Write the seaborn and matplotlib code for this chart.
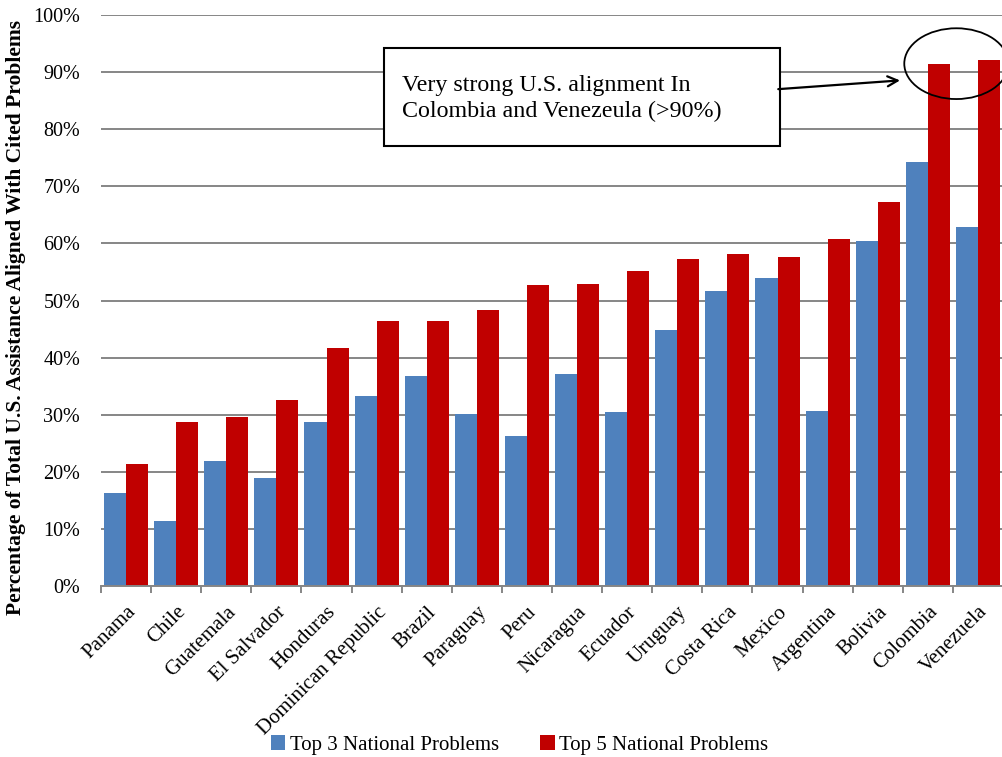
import matplotlib
matplotlib.use("Agg")
import matplotlib.pyplot as plt
from matplotlib.patches import Ellipse, Rectangle
from matplotlib.ticker import FixedLocator, PercentFormatter
import pandas as pd
import seaborn as sns

countries = ["Panama", "Chile", "Guatemala", "El Salvador", "Honduras",
             "Dominican Republic", "Brazil", "Paraguay", "Peru", "Nicaragua",
             "Ecuador", "Uruguay", "Costa Rica", "Mexico", "Argentina",
             "Bolivia", "Colombia", "Venezuela"]
top3 = [16.3, 11.3, 21.8, 18.9, 28.8, 33.2, 36.7, 30.2, 26.3, 37.1,
        30.4, 44.8, 51.6, 53.9, 30.6, 60.5, 74.2, 62.9]
top5 = [21.3, 28.8, 29.6, 32.6, 41.7, 46.4, 46.5, 48.3, 52.7, 52.9,
        55.1, 57.2, 58.1, 57.6, 60.8, 67.2, 91.4, 92.2]
series_names = ["Top 3 National Problems", "Top 5 National Problems"]
colors = ["#4F81BD", "#C00000"]

df = pd.DataFrame({
    "country": countries * 2,
    "value": top3 + top5,
    "series": [series_names[0]] * len(countries) + [series_names[1]] * len(countries),
})

sns.set_theme(style="white")
plt.rcParams["font.family"] = ["Liberation Serif", "DejaVu Serif"]
plt.rcParams.update({"text.color": "black", "axes.labelcolor": "black",
                     "xtick.color": "black", "ytick.color": "black"})

fig = plt.figure(figsize=(10.03, 7.57), dpi=100)
ax = fig.add_axes([0.1007, 0.226, 0.8993, 0.754])

sns.barplot(data=df, x="country", y="value", hue="series", order=countries,
            hue_order=series_names, palette=colors, width=0.88, gap=0,
            saturation=1, ax=ax, legend=True, edgecolor="none")

n = len(countries)
ax.set_xlim(-0.5, n - 0.5)
ax.set_ylim(0, 100)
ax.yaxis.set_major_locator(FixedLocator(range(0, 101, 10)))
ax.yaxis.set_major_formatter(PercentFormatter(decimals=0))
ax.grid(axis="y", color="#868686", linewidth=1.4, zorder=0)
ax.set_axisbelow(True)
for s in ["top", "right", "left"]:
    ax.spines[s].set_visible(False)
ax.spines["bottom"].set_color("#868686")
ax.spines["bottom"].set_linewidth(1.4)

ax.tick_params(axis="y", length=0, labelsize=14.5, pad=15, labelcolor="black")
ax.set_xticks(range(n))
ax.set_xticklabels(countries, rotation=45, ha="right", rotation_mode="anchor",
                   fontsize=15)
ax.tick_params(axis="x", which="major", length=0, pad=12, labelcolor="black")
ax.set_xticks([i - 0.5 for i in range(n + 1)], minor=True)
ax.tick_params(axis="x", which="minor", length=5, width=1.4, color="#868686",
               direction="out", bottom=True)

ax.set_xlabel("")
ax.set_ylabel("Percentage of Total U.S. Assistance Aligned With Cited Problems",
              fontsize=15.5, fontweight="bold")
ax.yaxis.set_label_coords(-0.083, 0.47)

# callout box, arrow and highlight ring
ax.add_patch(Rectangle((5.15, 77.1), 7.89, 17.1, facecolor="white",
                       edgecolor="black", linewidth=1.5, zorder=5, clip_on=False))
ax.text(5.51, 85.4, "Very strong U.S. alignment In\nColombia and Venezeula (>90%)",
        fontsize=17.3, va="center", ha="left", linespacing=1.33, zorder=6)
ax.annotate("", xy=(15.5, 88.6), xytext=(12.96, 87.0),
            arrowprops=dict(arrowstyle="->", color="black", lw=1.6,
                            mutation_scale=18), zorder=6)
ax.add_patch(Ellipse((16.57, 91.5), 2.08, 12.4, facecolor="none",
                     edgecolor="black", linewidth=1.3, zorder=6, clip_on=False))

ax.get_legend().remove()
handles = [Rectangle((0, 0), 1, 1, facecolor=c, edgecolor="none") for c in colors]
fig.legend(handles, series_names, loc="center", bbox_to_anchor=(0.518, 0.016),
           ncol=2, frameon=False, fontsize=15, handlelength=0.7,
           handleheight=0.7, handletextpad=0.2, columnspacing=2.0)

fig.savefig("out.png", dpi=100)
